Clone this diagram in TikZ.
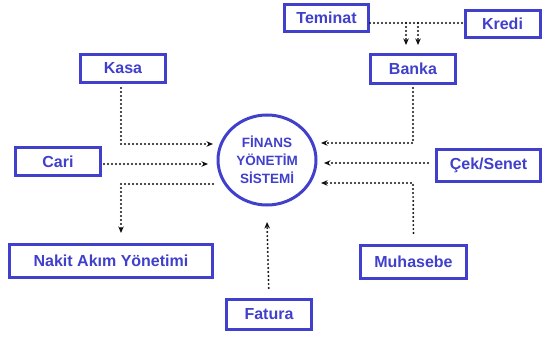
\documentclass[tikz,border=0pt]{standalone}
\usepackage{fontspec}
\setmainfont{Liberation Sans}
\usetikzlibrary{arrows.meta,shapes.geometric,calc}
\definecolor{fblue}{RGB}{64,64,204}
\definecolor{dotc}{RGB}{15,15,15}
\begin{document}
\begin{tikzpicture}[x=1pt,y=1pt,
  box/.style={draw=fblue,line width=3pt,fill=white,text=fblue,
    font=\fontsize{16}{18}\selectfont\bfseries,inner sep=0pt},
  hub/.style={ellipse,draw=fblue,line width=3pt,text=fblue,align=center,
    font=\fontsize{13.5}{18}\selectfont\bfseries,inner sep=0pt,
    minimum width=98pt,minimum height=90pt},
  dotline/.style={draw=dotc,line width=2.2pt,line cap=round,dash pattern=on 0pt off 4pt},
  tip/.style={-{Stealth[length=6.5pt,width=5.5pt]}}]
\useasboundingbox (0,0) rectangle (545,338);

% information sources and targets
\node[box,minimum width=84pt,minimum height=27pt] (teminat) at (326.5,320) {Teminat};
\node[box,minimum width=75pt,minimum height=27pt] (kredi) at (502.5,314) {Kredi};
\node[box,minimum width=85pt,minimum height=29pt] (banka) at (413,269) {Banka};
\node[box,minimum width=85pt,minimum height=28pt] (kasa) at (123,269.5) {Kasa};
\node[box,minimum width=85pt,minimum height=28pt] (cari) at (58,176.5) {Cari};
\node[box,minimum width=104pt,minimum height=32pt] (cek) at (488.5,172.5) {Çek/Senet};
\node[box,minimum width=106pt,minimum height=33pt] (muhasebe) at (413.5,76) {Muhasebe};
\node[box,minimum width=203pt,minimum height=33pt] (nakit) at (111,77) {Nakit Akım Yönetimi};
\node[box,minimum width=85pt,minimum height=30pt] (fatura) at (269,23.5) {Fatura};

% central system
\node[hub] (sys) at (267,178) {FİNANS\\YÖNETİM\\SİSTEMİ};

% junction points of the dotted flow lines
\coordinate (tk) at (412,315);
\coordinate (ta) at (406,315);
\coordinate (tb) at (418,315);
\coordinate (tae) at (406,293);
\coordinate (tbe) at (418,293);
\coordinate (bk) at (413,195);
\coordinate (bkin) at (321,195);
\coordinate (ckin) at (324,175);
\coordinate (mh) at (413,155);
\coordinate (mhin) at (321,155);
\coordinate (ks) at (121,194);
\coordinate (ksin) at (213,194);
\coordinate (crin) at (208,174);
\coordinate (nkout) at (213,154);
\coordinate (nk) at (121,154);
\coordinate (nkin) at (121,105);
\coordinate (ftin) at (267,116);

% Teminat and Kredi feed Banka
\draw[dotline] (teminat.east |- tk) -- (kredi.west |- tk);
\draw[dotline,tip] (ta) -- (tae);
\draw[dotline,tip] (tb) -- (tbe);

% right-hand inputs
\draw[dotline,tip,shorten <=3pt] (banka.south) -- (bk) -- (bkin);
\draw[dotline,tip,shorten <=7pt] (cek.west |- ckin) -- (ckin);
\draw[dotline,tip,shorten <=11pt] (muhasebe.north) -- (mh) -- (mhin);

% left-hand inputs and output
\draw[dotline,tip,shorten <=4pt] (kasa.south -| ks) -- (ks) -- (ksin);
\draw[dotline,tip,shorten <=2pt] (cari.east |- crin) -- (crin);
\draw[dotline,tip] (nkout) -- (nk) -- (nkin);

% bottom input
\draw[dotline,tip,shorten <=10pt] (fatura.north) -- (ftin);
\end{tikzpicture}
\end{document}
